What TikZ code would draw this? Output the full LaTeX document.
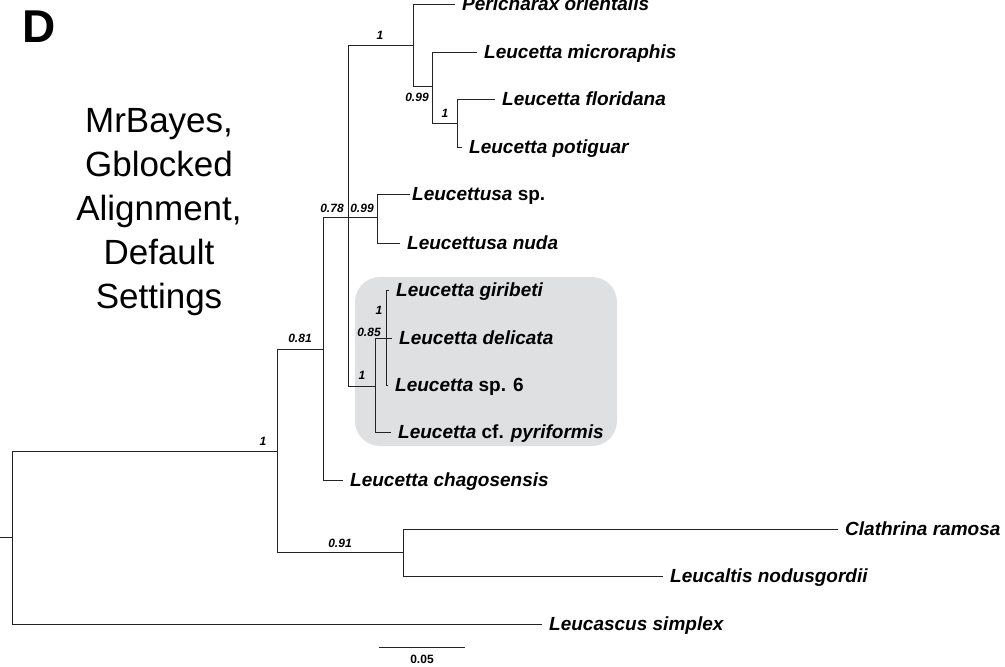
\documentclass[tikz,border=0pt]{standalone}
\usepackage{fontspec}
\setmainfont{Liberation Sans}
\definecolor{boxgrey}{RGB}{223,224,226}
\definecolor{branchcol}{RGB}{35,35,35}

\begin{document}
\begin{tikzpicture}[x=1pt,y=-1pt,
    branch/.style={draw=branchcol,line width=1pt},
    taxon/.style={anchor=west,inner xsep=7pt,inner ysep=0pt,text height=13.6pt,text depth=0pt,
        font=\fontsize{19}{19}\selectfont\bfseries\itshape},
    support/.style={inner sep=0pt,font=\fontsize{12}{12}\selectfont\bfseries\itshape}]
	\useasboundingbox (0,0) rectangle (1005,667);
	% highlighted clade
	\fill[boxgrey,rounded corners=25pt] (355,277) rectangle (617,446);
	% internal nodes
	\coordinate (stub) at (0,537);
	\coordinate (root) at (12,537);
	\coordinate (n1a) at (277,451);
	\coordinate (n081) at (323,349);
	\coordinate (n078) at (348,217);
	\coordinate (n1top) at (413,45);
	\coordinate (n099a) at (432,86);
	\coordinate (n1flo) at (457,123);
	\coordinate (n099b) at (377,217);
	\coordinate (n1grey) at (375,386);
	\coordinate (n085) at (386,338);
	\coordinate (n091) at (403,552);
	% taxa
	\node[taxon] (peri) at (455,4) {Pericharax orientalis};
	\node[taxon] (micro) at (477,52) {Leucetta microraphis};
	\node[taxon] (flor) at (495,99) {Leucetta floridana};
	\node[taxon] (poti) at (462,147) {Leucetta potiguar};
	\node[taxon,inner xsep=2pt] (lsp) at (410,194) {Leucettusa \upshape sp.};
	\node[taxon] (lnuda) at (400,243) {Leucettusa nuda};
	\node[taxon] (giri) at (389,290) {Leucetta giribeti};
	\node[taxon] (deli) at (392,338) {Leucetta delicata};
	\node[taxon] (sp6) at (388,385) {Leucetta \upshape sp. 6};
	\node[taxon] (pyri) at (391,432) {Leucetta \upshape cf. \itshape pyriformis};
	\node[taxon] (chag) at (343,480) {Leucetta chagosensis};
	\node[taxon] (clath) at (838,529) {Clathrina ramosa};
	\node[taxon] (leucal) at (663,576) {Leucaltis nodusgordii};
	\node[taxon] (leucas) at (542,624) {Leucascus simplex};
	% branches
	\draw[branch] (stub) -- (root);
	\draw[branch] (root) |- (n1a);
	\draw[branch] (root) |- (leucas.west);
	\draw[branch] (n1a) |- (n081);
	\draw[branch] (n1a) |- (n091);
	\draw[branch] (n091) |- (clath.west);
	\draw[branch] (n091) |- (leucal.west);
	\draw[branch] (n081) |- (n078);
	\draw[branch] (n081) |- (chag.west);
	\draw[branch] (n078) |- (n1top);
	\draw[branch] (n078) -- (n099b);
	\draw[branch] (n078) |- (n1grey);
	\draw[branch] (n1top) |- (peri.west);
	\draw[branch] (n1top) |- (n099a);
	\draw[branch] (n099a) |- (micro.west);
	\draw[branch] (n099a) |- (n1flo);
	\draw[branch] (n1flo) |- (flor.west);
	\draw[branch] (n1flo) |- (poti.west);
	\draw[branch] (n099b) |- (lsp.west);
	\draw[branch] (n099b) |- (lnuda.west);
	\draw[branch] (n1grey) |- (n085);
	\draw[branch] (n1grey) |- (pyri.west);
	\draw[branch] (n085) |- (giri.west);
	\draw[branch] (n085) -- (deli.west);
	\draw[branch] (n085) |- (sp6.west);
	% posterior probabilities
	\node[support] (s1a) at (263,441) {1};
	\node[support] (s081) at (300,338) {0.81};
	\node[support] (s078) at (332,208) {0.78};
	\node[support] (s099b) at (362,208) {0.99};
	\node[support] (s1top) at (380,35) {1};
	\node[support] (s099a) at (417,97) {0.99};
	\node[support] (s1flo) at (445,113) {1};
	\node[support] (s1grey) at (362,375) {1};
	\node[support] (s085) at (369,332) {0.85};
	\node[support] (s1in) at (379,310) {1};
	\node[support] (s091) at (340,543) {0.91};
	% scale bar
	\coordinate (barL) at (379,647);
	\coordinate (barR) at (465,647);
	\draw[branch] (barL) -- (barR);
	\node[inner sep=0pt,font=\fontsize{12}{12}\selectfont\bfseries] (barlab) at (422,659) {0.05};
	% panel letter and method
	\node[inner sep=0pt,font=\fontsize{46}{46}\selectfont\bfseries] (panel) at (39,27) {D};
	\node[align=center,inner sep=0pt,anchor=north,font=\fontsize{35}{44}\selectfont] (method) at (159,108)
		{MrBayes,\\Gblocked\\Alignment,\\Default\\Settings};
\end{tikzpicture}
\end{document}
